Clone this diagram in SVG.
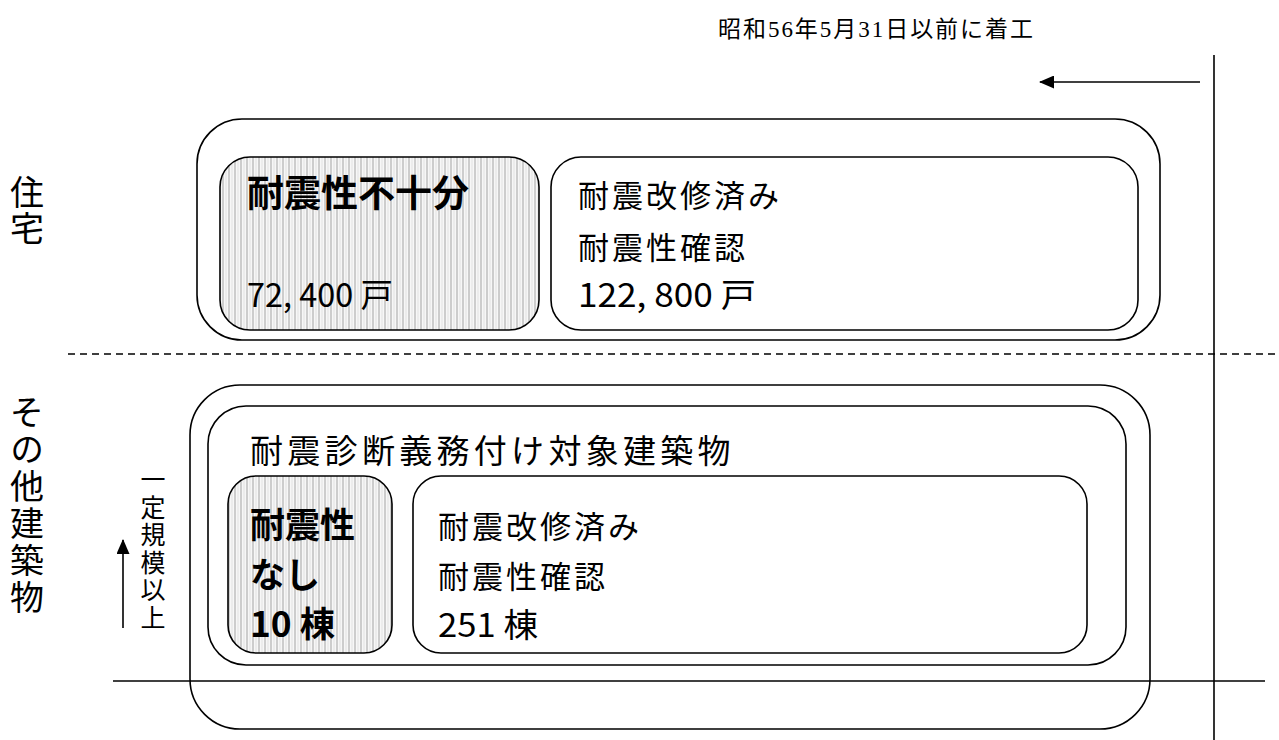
<svg xmlns="http://www.w3.org/2000/svg" width="1279" height="740" viewBox="0 0 1279 740">
<defs>
<pattern id="stripes" width="6" height="10" patternUnits="userSpaceOnUse">
<rect width="6" height="10" fill="#f7f7f7"/>
<rect x="0" width="2" height="10" fill="#cdcdcd"/>
<rect x="3.5" width="1" height="10" fill="#e2e2e2"/>
</pattern>
<marker id="ah" viewBox="0 0 15 13" refX="14" refY="6.5" markerWidth="15" markerHeight="13" markerUnits="userSpaceOnUse" orient="auto">
<path d="M0,0 L15,6.5 L0,13 z" fill="#000"/>
</marker>
<style>
.box{fill:#fff;stroke:#000;stroke-width:1.6}
.shaded{fill:url(#stripes);stroke:#000;stroke-width:1.6}
.line{stroke:#000;stroke-width:1.6;fill:none}
.t{font-family:"Noto Sans CJK JP","Liberation Sans",sans-serif;fill:#000}
.b{font-weight:bold}
.v{writing-mode:vertical-rl;font-family:"Noto Sans CJK JP",sans-serif;fill:#000}
.serif{font-family:"Liberation Serif","Noto Sans CJK JP",serif;fill:#000}
</style>
</defs>

<text class="serif" x="718" y="37" font-size="23" textLength="315" lengthAdjust="spacing">昭和56年5月31日以前に着工</text>

<g id="label-jutaku">
<text class="v" x="27" y="175" font-size="34" letter-spacing="2">住宅</text>
</g>

<g id="label-sonota">
<text class="v" x="27" y="395" font-size="34" letter-spacing="3">その他建築物</text>
</g>

<g id="label-ichitei">
<text class="v" x="153" y="467" font-size="25" letter-spacing="2.5">一定規模以上</text>
</g>

<g id="housing-outer">
<rect class="box" x="197" y="119" width="963" height="221" rx="45"/>
</g>
<g id="housing-insufficient">
<rect class="shaded" x="220" y="157" width="319" height="173" rx="30"/>
<text class="t b" x="247" y="207" font-size="37">耐震性不十分</text>
<text class="t" x="247" y="307" font-size="33" textLength="146" lengthAdjust="spacingAndGlyphs">72, 400 戸</text>
</g>
<g id="housing-ok">
<rect class="box" x="551" y="157" width="587" height="173" rx="30"/>
<text class="t" x="578" y="207" font-size="31" letter-spacing="3">耐震改修済み</text>
<text class="t" x="578" y="259" font-size="31" letter-spacing="3">耐震性確認</text>
<text class="t" x="578" y="307" font-size="33" textLength="178" lengthAdjust="spacingAndGlyphs">122, 800 戸</text>
</g>

<g id="other-outer">
<rect class="box" x="190" y="385" width="960" height="344" rx="50"/>
</g>
<g id="other-target">
<rect class="box" x="208" y="406" width="918" height="259" rx="38"/>
<text class="t" x="250" y="463" font-size="33" letter-spacing="4.3">耐震診断義務付け対象建築物</text>
</g>
<g id="other-none">
<rect class="shaded" x="228" y="476" width="164" height="177" rx="28"/>
<text class="t b" x="250" y="538" font-size="35">耐震性</text>
<text class="t b" x="250" y="588" font-size="35">なし</text>
<text class="t b" x="250" y="637" font-size="35" textLength="85" lengthAdjust="spacingAndGlyphs">10 棟</text>
</g>
<g id="other-ok">
<rect class="box" x="413" y="476" width="674" height="177" rx="28"/>
<text class="t" x="438" y="538" font-size="31" letter-spacing="3">耐震改修済み</text>
<text class="t" x="438" y="588" font-size="31" letter-spacing="3">耐震性確認</text>
<text class="t" x="438" y="637" font-size="33" textLength="100" lengthAdjust="spacingAndGlyphs">251 棟</text>
</g>

<g id="connectors">
<line class="line" x1="1214" y1="55" x2="1214" y2="740"/>
<line class="line" x1="1200" y1="82" x2="1040" y2="82" marker-end="url(#ah)"/>
<line class="line" x1="68" y1="354" x2="1279" y2="354" stroke-dasharray="7 5"/>
<line class="line" x1="113" y1="681" x2="1265" y2="681"/>
<line class="line" x1="123" y1="628" x2="123" y2="540" marker-end="url(#ah)"/>
</g>
</svg>
